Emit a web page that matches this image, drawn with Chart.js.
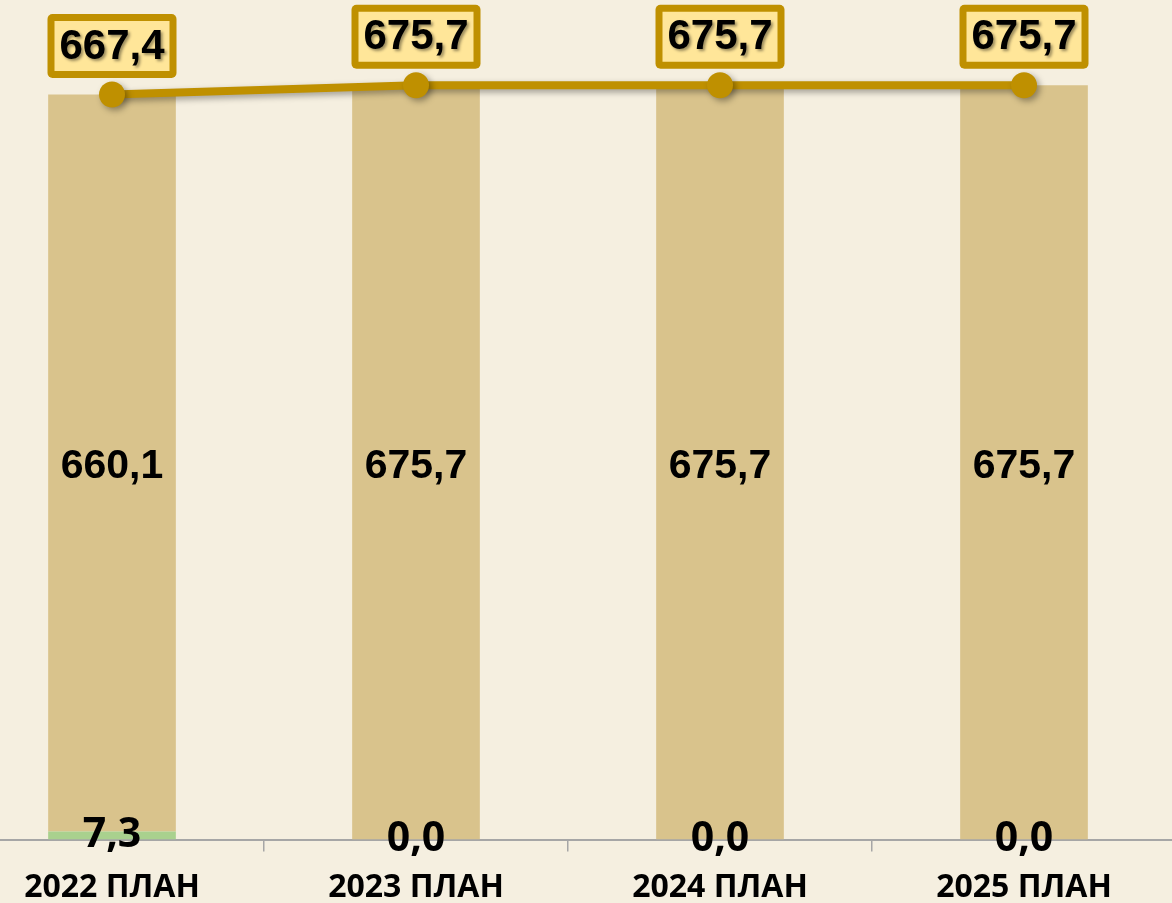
<!DOCTYPE html>
<html>
<head>
<meta charset="utf-8">
<script src="https://cdn.jsdelivr.net/npm/chart.js@4.4.1/dist/chart.umd.min.js"></script>
<style>
    html, body { margin: 0; padding: 0; background: #F5EFE0; overflow: hidden; width: 1172px; height: 903px; }
    #wrap { position: absolute; left: -53px; top: -13px; width: 1242px; height: 937px; }
</style>
</head>
<body>
<div id="wrap"><canvas id="chart" width="1242" height="937"></canvas></div>
<script>
// ===== Datos =====
const categorias = ['2022 ПЛАН', '2023 ПЛАН', '2024 ПЛАН', '2025 ПЛАН'];
const serieVerde = [7.3, 0.0, 0.0, 0.0];
const serieBeige = [660.1, 675.7, 675.7, 675.7];
const totales = [667.4, 675.7, 675.7, 675.7];

const GOLD = '#BF9000';
const fmt = v => v.toFixed(1).replace('.', ',');

// Sombra para la línea y los puntos
const shadowPlugin = {
    id: 'lineShadow',
    beforeDatasetDraw(chart, args) {
        if (args.index !== 2) return;
        const ctx = chart.ctx;
        ctx.save();
        ctx.shadowColor = 'rgba(0, 0, 0, 0.35)';
        ctx.shadowBlur = 6;
        ctx.shadowOffsetX = 3;
        ctx.shadowOffsetY = 3;
    },
    afterDatasetDraw(chart, args) {
        if (args.index !== 2) return;
        chart.ctx.restore();
    }
};

// Etiquetas de valores
const labelsPlugin = {
    id: 'valueLabels',
    afterDatasetsDraw(chart) {
        const ctx = chart.ctx;
        ctx.save();
        ctx.textAlign = 'center';
        ctx.textBaseline = 'middle';

        // Segmento verde (abajo)
        chart.getDatasetMeta(0).data.forEach((bar, i) => {
            const y = (bar.y + bar.base) / 2;
            ctx.font = 'bold 41px "Open Sans"';
            ctx.fillStyle = '#000';
            ctx.fillText(fmt(serieVerde[i]), bar.x, y);
        });

        // Segmento beige
        chart.getDatasetMeta(1).data.forEach((bar, i) => {
            const y = (bar.y + bar.base) / 2;
            ctx.font = 'bold 41px "Liberation Sans"';
            ctx.fillStyle = '#000';
            ctx.fillText(fmt(serieBeige[i]), bar.x, y + 4);
        });

        // Totales en cajas
        chart.getDatasetMeta(2).data.forEach((pt, i) => {
            const w = 129, h = 64, bw = 7;
            const cx = pt.x, cy = pt.y - 48.5;
            ctx.beginPath();
            ctx.roundRect(cx - w / 2, cy - h / 2, w, h, 5);
            ctx.fillStyle = GOLD;
            ctx.fill();
            ctx.beginPath();
            ctx.rect(cx - w / 2 + bw, cy - h / 2 + bw, w - 2 * bw, h - 2 * bw);
            ctx.fillStyle = '#FFE699';
            ctx.fill();

            ctx.save();
            ctx.shadowColor = 'rgba(0, 0, 0, 0.4)';
            ctx.shadowBlur = 3;
            ctx.shadowOffsetX = 2;
            ctx.shadowOffsetY = 2;
            ctx.font = 'bold 42px "Liberation Sans"';
            ctx.fillStyle = '#000';
            ctx.fillText(fmt(totales[i]), cx, cy + 1);
            ctx.restore();
        });
        ctx.restore();
    }
};

new Chart(document.getElementById('chart'), {
    type: 'bar',
    data: {
        labels: categorias,
        datasets: [
            {
                label: 'verde',
                data: serieVerde,
                backgroundColor: '#A9D18E',
                stack: 'barras',
                order: 2
            },
            {
                label: 'beige',
                data: serieBeige,
                backgroundColor: '#D9C38C',
                stack: 'barras',
                order: 2
            },
            {
                type: 'line',
                label: 'total',
                data: totales,
                stack: 'total',
                borderColor: GOLD,
                backgroundColor: GOLD,
                borderWidth: 8,
                pointRadius: 13,
                pointBorderWidth: 0,
                pointBackgroundColor: GOLD,
                tension: 0,
                order: 1
            }
        ]
    },
    options: {
        responsive: false,
        animation: false,
        layout: { padding: 0 },
        datasets: {
            bar: { categoryPercentage: 1.0, barPercentage: 0.42 }
        },
        plugins: {
            legend: { display: false },
            tooltip: { enabled: false }
        },
        scales: {
            x: {
                stacked: true,
                offset: true,
                grid: {
                    offset: true,
                    drawOnChartArea: false,
                    drawTicks: true,
                    tickLength: 12,
                    color: '#A6A6A6',
                    lineWidth: 1.5
                },
                border: { color: '#A6A6A6', width: 2 },
                ticks: {
                    autoSkip: false,
                    maxRotation: 0,
                    padding: 17,
                    color: '#000',
                    font: { family: '"Open Sans"', size: 32, weight: 'bold' }
                }
            },
            y: {
                stacked: true,
                display: false,
                min: 0,
                max: 752
            }
        }
    },
    plugins: [shadowPlugin, labelsPlugin]
});
</script>
</body>
</html>
